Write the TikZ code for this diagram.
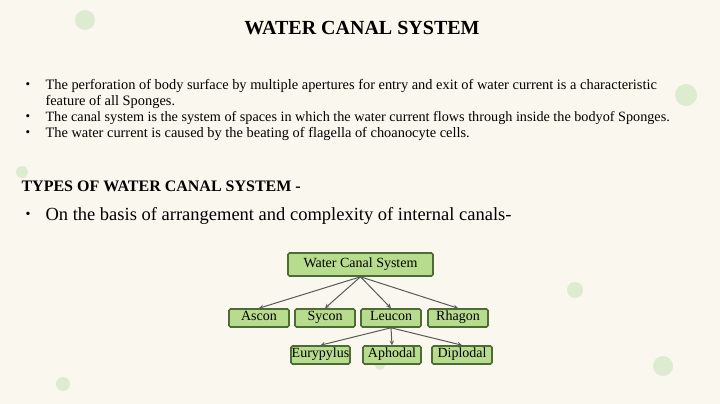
\documentclass[tikz,border=0pt]{standalone}
\usepackage{fontspec}
\setmainfont{Liberation Serif}
\usepackage{xcolor}
\definecolor{paper}{HTML}{FAF7EE}
\definecolor{dot}{HTML}{DDEBD0}
\definecolor{boxfill}{HTML}{B8DC8E}
\definecolor{boxline}{HTML}{4E6B35}
\tikzset{
  canal/.style={draw=boxline,fill=boxfill,line width=1.6pt,rounded corners=1.5pt,inner sep=0pt,text height=9pt,text depth=3.5pt,font=\fontsize{14}{16}\selectfont},
  link/.style={draw=black!65,line width=1pt,-stealth}
}
\begin{document}
\begin{tikzpicture}[x=1pt,y=-1pt]
        \fill[paper] (0,0) rectangle (720,404);
        \useasboundingbox (0,0) rectangle (720,404);
        % background dots
        \foreach \cx/\cy/\r in {85/20/10, 686/95/11, 22/172/6, 575/290/8, 63/384/7, 663/366/10, 380/365/5}
            \fill[dot] (\cx,\cy) circle (\r);

        \node[font=\fontsize{20}{22}\selectfont\bfseries] (title) at (362,28) {WATER CANAL SYSTEM};

        \foreach \y in {86,118,134}
            \node (b\y) at (28,\y) {\fontsize{13}{14}\selectfont\textbullet};
        \node[anchor=west,font=\fontsize{14.4}{16.5}\selectfont,align=left] (t1) at (42,94)
            {The perforation of body surface by multiple apertures for entry and exit of water current is a characteristic\\feature of all Sponges.};
        \node[anchor=west,font=\fontsize{14.2}{16}\selectfont] (t2) at (42,118)
            {The canal system is the system of spaces in which the water current flows through inside the bodyof Sponges.};
        \node[anchor=west,font=\fontsize{14.4}{16}\selectfont] (t3) at (42,134)
            {The water current is caused by the beating of flagella of choanocyte cells.};

        \node[anchor=west,font=\fontsize{16}{18}\selectfont\bfseries] (types) at (18,186) {TYPES OF WATER CANAL SYSTEM -};
        \node (b4) at (28,215) {\fontsize{14}{15}\selectfont\textbullet};
        \node[anchor=west,font=\fontsize{18.5}{20}\selectfont] (basis) at (42,216) {On the basis of arrangement and complexity of internal canals-};

        % tree
        \node[canal,minimum width=145,minimum height=23] (root) at (360.5,264.5) {Water Canal System};
        \node[canal,minimum width=60,minimum height=18] (ascon) at (259,318) {Ascon};
        \node[canal,minimum width=60,minimum height=18] (sycon) at (325,318) {Sycon};
        \node[canal,minimum width=60,minimum height=18] (leucon) at (391,318) {Leucon};
        \node[canal,minimum width=60,minimum height=18] (rhagon) at (458,318) {Rhagon};
        \node[canal,minimum width=59,minimum height=18] (eury) at (320.5,355) {Eurypylus};
        \node[canal,minimum width=58,minimum height=18] (aphodal) at (392,355) {Aphodal};
        \node[canal,minimum width=60,minimum height=18] (diplodal) at (462,355) {Diplodal};

        \foreach \child in {ascon,sycon,leucon,rhagon}
            \draw[link] (root.south) -- (\child.north);
        \foreach \child in {eury,aphodal,diplodal}
            \draw[link] (leucon.south) -- (\child.north);
    \end{tikzpicture}
\end{document}
